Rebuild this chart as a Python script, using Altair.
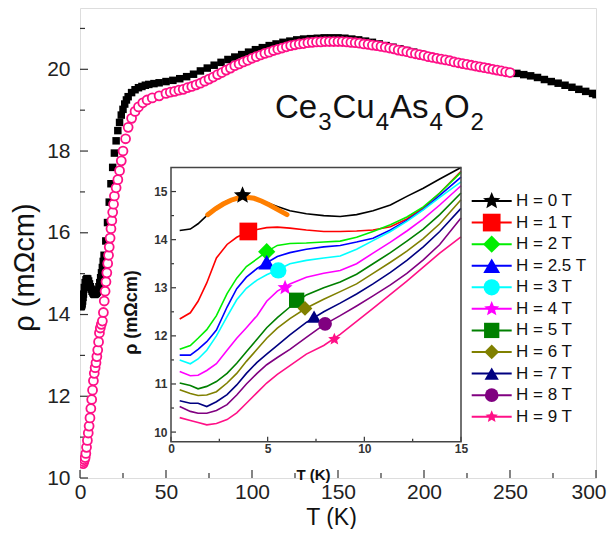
import math
import altair as alt
import pandas as pd

FONT = "Liberation Sans"
PINK = "#FF1087"
FRAME = "#333333"

# ---------------- main panel data ----------------
T_black = [0.5, 0.75, 1.0, 1.25, 1.5, 1.75, 2, 2.5, 3, 3.5, 4, 4.5, 5, 5.5, 6, 6.5, 7, 7.5, 8,
           8.5, 9, 9.5, 10, 10.5, 11, 11.5, 12, 12.5, 13, 13.5, 14, 15, 16, 17, 18, 19, 20,
           21, 22, 23, 24, 25, 26, 27, 28, 30, 32, 34, 36, 38, 40, 43, 46,
           50, 54, 58, 62, 66, 70, 74, 78, 82, 86, 90, 94, 98, 102, 106, 110, 114, 118, 122,
           126, 130, 134, 138, 142, 146, 150, 154, 158, 162, 166, 170, 174, 178, 182, 186,
           190, 194, 198, 202, 206, 210, 214, 218, 222, 226, 230, 234, 238, 242, 246, 250,
           254, 258, 262, 266, 270, 274, 278, 282, 286, 290, 294, 298, 300]
R_black = [14.19, 14.2, 14.22, 14.26, 14.33, 14.42, 14.5, 14.66, 14.78, 14.85, 14.88, 14.87,
           14.82, 14.75, 14.68, 14.62, 14.57, 14.53, 14.5, 14.49, 14.5, 14.52, 14.55, 14.6,
           14.68, 14.78, 14.9, 15.02, 15.15, 15.3, 15.45, 15.8, 16.25, 16.75, 17.2, 17.6, 17.95,
           18.25, 18.5, 18.7, 18.88, 19.02, 19.15, 19.25, 19.33, 19.43, 19.5, 19.55, 19.58,
           19.61, 19.63, 19.65, 19.67,
           19.7, 19.73, 19.77, 19.82, 19.88, 19.96, 20.03, 20.1, 20.17, 20.24, 20.3, 20.36,
           20.42, 20.48, 20.53, 20.58, 20.62, 20.66, 20.69,
           20.72, 20.74, 20.75, 20.76, 20.77, 20.77, 20.77, 20.76, 20.74, 20.72, 20.69, 20.66,
           20.62, 20.58, 20.54, 20.5,
           20.46, 20.42, 20.38, 20.33, 20.29, 20.25, 20.21, 20.17, 20.14, 20.1, 20.07, 20.04,
           20.01, 19.98, 19.95, 19.92,
           19.9, 19.87, 19.84, 19.8, 19.75, 19.7, 19.66, 19.61, 19.56, 19.51, 19.46, 19.41, 19.38]

T_pink = [1.8, 2.2, 2.6, 3.0, 3.4, 3.8, 4.3, 4.8, 5.3, 5.8, 6.3, 6.8, 7.3, 7.8, 8.3, 8.8, 9.3,
          9.8, 10.3, 10.8, 11.3, 11.8, 12.4, 13.0, 13.6, 14.1, 14.6, 15.1, 15.6, 16.1, 16.6,
          17.0, 17.5, 18.0, 18.5, 19.0, 19.5, 20.0, 21.0, 22.0, 23.0, 24.0, 25.0, 26.5, 28,
          30, 32, 34, 36.5, 39, 42, 46, 50, 52.5,
          55, 57.5, 60, 62.5, 65, 67.5, 70, 72.5, 75, 77.5, 80, 82.5, 85, 87.5, 90, 92.5, 95,
          97.5, 100, 102.5, 105, 107.5, 110, 112.5, 115, 117.5, 120, 122.5, 125, 127.5, 130,
          132.5, 135, 137.5, 140, 142.5, 145, 147.5, 150, 152.5, 155, 157.5, 160, 162.5, 165,
          167.5, 170, 172.5, 175, 177.5, 180, 182.5, 185, 187.5, 190, 192.5, 195, 197.5, 200,
          202.5, 205, 207.5, 210, 212.5, 215, 217.5, 220, 222.5, 225, 227.5, 230, 232.5, 235,
          237.5, 240, 242.5, 245, 247.5, 250]
R_pink = [10.35, 10.4, 10.45, 10.5, 10.6, 10.75, 10.92, 11.1, 11.27, 11.47, 11.7, 11.92, 12.15,
          12.38, 12.56, 12.7, 12.82, 12.97, 13.13, 13.33, 13.55, 13.67, 13.76, 13.84, 14.05,
          14.33, 14.57, 14.8, 15.02, 15.25, 15.45, 15.65, 15.87, 16.1, 16.3, 16.5, 16.7, 16.9,
          17.1, 17.3, 17.52, 17.76, 18.0, 18.3, 18.58, 18.8, 18.97, 19.08, 19.18, 19.25, 19.3,
          19.35, 19.41, 19.44,
          19.46, 19.49, 19.51, 19.55, 19.58, 19.62, 19.66, 19.71, 19.76, 19.81, 19.87, 19.92,
          19.98, 20.03, 20.09, 20.13, 20.18, 20.22, 20.27, 20.31, 20.35, 20.39, 20.42, 20.46,
          20.49, 20.52, 20.55, 20.58, 20.6, 20.62, 20.63, 20.65, 20.66, 20.67, 20.67, 20.68,
          20.68, 20.68, 20.68, 20.68, 20.67, 20.66, 20.65, 20.64, 20.62, 20.61, 20.59, 20.58,
          20.56, 20.54, 20.52, 20.5, 20.47, 20.45, 20.43, 20.4, 20.38, 20.36, 20.34, 20.31,
          20.29, 20.27, 20.25, 20.23, 20.21, 20.18, 20.16, 20.14, 20.12, 20.1, 20.08, 20.06,
          20.04, 20.02, 20.0, 19.98, 19.96, 19.94, 19.92]

main_x_ticks = [0, 50, 100, 150, 200, 250, 300]
main_x_minor = [25, 75, 125, 175, 225, 275]
main_y_ticks = [10, 12, 14, 16, 18, 20]
main_y_minor = [11, 13, 15, 17, 19, 21]

# ---------------- inset data ----------------
labels = ["H = 0 T", "H = 1 T", "H = 2 T", "H = 2.5 T", "H = 3 T", "H = 4 T",
          "H = 5 T", "H = 6 T", "H = 7 T", "H = 8 T", "H = 9 T"]
colors = ["#000000", "#FF0000", "#00EE00", "#0000FF", "#00FFFF", "#FF00FF",
          "#008000", "#808000", "#000080", "#800080", PINK]
T_in = [0.45, 1.0, 1.4, 1.85, 2.35, 2.9, 3.4, 3.9, 4.45, 4.95, 5.5, 6.15, 7.0, 7.9, 8.75,
        9.6, 10.45, 11.35, 12.2, 13.05, 13.9, 15.0]
rho_0T = [14.19, 14.22, 14.33, 14.5, 14.68, 14.81, 14.86, 14.87, 14.84, 14.77, 14.69, 14.6,
          14.54, 14.5, 14.48, 14.52, 14.6, 14.72, 14.9, 15.07, 15.26, 15.5]
rho_1T = [12.35, 12.48, 12.72, 13.1, 13.62, 13.9, 14.05, 14.15, 14.21, 14.25, 14.26, 14.24,
          14.2, 14.17, 14.17, 14.18, 14.2, 14.27, 14.43, 14.66, 14.97, 15.42]
rho_2T = [11.72, 11.8, 11.95, 12.13, 12.42, 12.88, 13.2, 13.44, 13.6, 13.75, 13.88, 13.92,
          13.93, 13.95, 13.97, 14.05, 14.17, 14.31, 14.47, 14.68, 14.97, 15.4]
rho_25T = [11.6, 11.6, 11.72, 11.88, 12.12, 12.6, 12.98, 13.22, 13.4, 13.52, 13.65, 13.73,
           13.8, 13.85, 13.88, 13.95, 14.03, 14.2, 14.4, 14.63, 14.92, 15.3]
rho_3T = [11.5, 11.42, 11.52, 11.7, 12.0, 12.4, 12.75, 12.99, 13.16, 13.27, 13.37, 13.5,
          13.57, 13.62, 13.66, 13.8, 13.98, 14.17, 14.38, 14.62, 14.88, 15.2]
rho_4T = [11.26, 11.17, 11.18, 11.28, 11.42, 11.7, 11.95, 12.17, 12.42, 12.72, 12.93, 13.08,
          13.22, 13.3, 13.36, 13.5, 13.72, 13.95, 14.18, 14.43, 14.72, 15.12]
rho_5T = [11.02, 10.97, 10.9, 10.95, 11.05, 11.22, 11.43, 11.67, 11.93, 12.17, 12.38, 12.6,
          12.85, 13.0, 13.12, 13.28, 13.5, 13.73, 13.97, 14.22, 14.52, 14.97]
rho_6T = [10.88, 10.8, 10.76, 10.77, 10.84, 11.02, 11.22, 11.47, 11.72, 11.95, 12.16, 12.36,
          12.58, 12.76, 12.92, 13.08, 13.3, 13.53, 13.76, 14.02, 14.33, 14.83]
rho_7T = [10.65, 10.6, 10.6, 10.53, 10.63, 10.78, 10.98, 11.22, 11.45, 11.62, 11.8, 12.02,
          12.28, 12.5, 12.68, 12.87, 13.08, 13.32, 13.57, 13.85, 14.17, 14.65]
rho_8T = [10.53, 10.43, 10.39, 10.39, 10.45, 10.57, 10.77, 11.0, 11.22, 11.4, 11.55, 11.72,
          11.97, 12.23, 12.42, 12.62, 12.83, 13.06, 13.3, 13.58, 13.9, 14.45]
rho_9T = [10.3, 10.24, 10.2, 10.15, 10.18, 10.26, 10.4, 10.6, 10.82, 11.02, 11.2, 11.38,
          11.62, 11.8, 12.03, 12.3, 12.57, 12.86, 13.14, 13.43, 13.72, 14.06]
inset_rho = [rho_0T, rho_1T, rho_2T, rho_25T, rho_3T, rho_4T, rho_5T, rho_6T, rho_7T,
             rho_8T, rho_9T]

marker_T = [3.7, 4.0, 4.95, 4.95, 5.55, 5.9, 6.5, 6.93, 7.4, 7.97, 8.45]
marker_rho = [14.92, 14.17, 13.75, 13.53, 13.36, 13.0, 12.74, 12.57, 12.4, 12.25, 11.93]

arc_T = [1.9, 2.3, 2.7, 3.1, 3.5, 3.9, 4.3, 4.7, 5.1, 5.5, 6.0]
arc_rho = [14.52, 14.64, 14.74, 14.82, 14.87, 14.88, 14.86, 14.8, 14.72, 14.63, 14.52]

inset_x_ticks = [0, 5, 10, 15]
inset_x_minor = [2.5, 7.5, 12.5]
inset_y_ticks = [10, 11, 12, 13, 14, 15]
inset_y_minor = [10.5, 11.5, 12.5, 13.5, 14.5]

# ---------------- styles ----------------
pts = []
for k in range(10):
    a = -math.pi / 2 + k * math.pi / 5
    r = 1.0 if k % 2 == 0 else 0.45
    pts.append(f"{r * math.cos(a):.3f},{r * math.sin(a):.3f}")
STAR = "M" + " L".join(pts) + " Z"
shapes = [STAR, "square", "diamond", "triangle-up", "circle", STAR,
          "square", "diamond", "triangle-up", "circle", STAR]
size_of = {"square": 170, "diamond": 250, "triangle-up": 230, "circle": 165}
sizes = [size_of.get(s, 330) for s in shapes]

W, H = 516, 470
IN_X = [91, 381]
IN_Y = [433.7, 159.5]

color_enc = alt.Color("H:N", scale=alt.Scale(domain=labels, range=colors), legend=None)
shape_enc = alt.Shape("H:N", scale=alt.Scale(domain=labels, range=shapes), legend=None)
size_enc = alt.Size("H:N", scale=alt.Scale(domain=labels, range=sizes), legend=None)

main_x_axis = alt.Axis(values=main_x_ticks, domain=False, ticks=False, grid=False,
                       labelFontSize=21, labelPadding=3, labelColor="#222", labelFlush=False,
                       labelAlign=alt.condition("datum.value == 300", alt.value("right"),
                                                alt.value("center")),
                       labelOffset=alt.condition("datum.value == 300", alt.value(10),
                                                 alt.value(0)),
                       labelFont=FONT, title="T (K)", titleFontSize=23, titleFontWeight="normal",
                       titleFont=FONT, titleColor="#111", titleX=251, titleY=46,
                       titleBaseline="alphabetic")
main_y_axis = alt.Axis(values=main_y_ticks, domain=False, ticks=False, grid=False,
                       labelFontSize=21, labelPadding=10, labelColor="#222", labelFlush=False,
                       labelFont=FONT, title="ρ (mΩcm)", titleFontSize=29,
                       titleFontWeight="normal", titleFont=FONT, titleColor="#111",
                       titleX=-47, titleY=259, titleBaseline="alphabetic", titleAngle=270,
                       titleAlign="center")


def mx(f):
    return alt.X(f"{f}:Q", scale=alt.Scale(domain=[0, 300], nice=False, zero=False),
                 axis=main_x_axis)


def my(f):
    return alt.Y(f"{f}:Q", scale=alt.Scale(domain=[10, 21.5], nice=False, zero=False),
                 axis=main_y_axis)


inset_x_axis = alt.Axis(orient="bottom", offset=IN_Y[0] - H, values=inset_x_ticks,
                        domain=False, ticks=False, grid=False, labelFontSize=12,
                        labelFontWeight="bold", labelPadding=2, labelColor="#333",
                        labelFont=FONT, labelFlush=False,
                        title="T (K)", titleFontSize=15, titleFontWeight="bold",
                        titleFont=FONT, titleColor="#111", titleX=233, titleY=38,
                        titleBaseline="alphabetic")
inset_y_axis = alt.Axis(orient="left", offset=-IN_X[0], values=inset_y_ticks, domain=False,
                        ticks=False, grid=False, labelFontSize=12, labelFontWeight="bold",
                        labelPadding=4, labelColor="#333", labelFont=FONT, labelFlush=False,
                        title="ρ (mΩcm)", titleFontSize=18, titleFontWeight="bold",
                        titleFont=FONT, titleColor="#111", titleX=-35, titleY=304,
                        titleBaseline="alphabetic", titleAngle=270, titleAlign="center")


def ix(f):
    return alt.X(f"{f}:Q", scale=alt.Scale(domain=[0, 15], range=IN_X, nice=False, zero=False),
                 axis=inset_x_axis)


def iy(f):
    return alt.Y(f"{f}:Q", scale=alt.Scale(domain=[9.8, 15.5], range=IN_Y, nice=False,
                                           zero=False), axis=inset_y_axis)


# ---------------- main layer ----------------
df_black = pd.DataFrame({"T": T_black, "rho": R_black})
df_pink = pd.DataFrame({"T": T_pink, "rho": R_pink})

black = alt.Chart(df_black).mark_point(shape="square", filled=True, size=56, color="black",
                                       opacity=1, clip=True).encode(x=mx("T"), y=my("rho"))
pink = alt.Chart(df_pink).mark_point(shape="circle", filled=True, fill="white", stroke=PINK,
                                     strokeWidth=1.8, size=80, opacity=1, fillOpacity=1,
                                     strokeOpacity=1, clip=True).encode(x=mx("T"), y=my("rho"))

mxt = alt.Chart(pd.DataFrame({"T": main_x_ticks})).mark_rule(color=FRAME, strokeWidth=1.2).encode(
    x=mx("T"), y=alt.value(H), y2=alt.value(H - 8))
mxm = alt.Chart(pd.DataFrame({"T": main_x_minor})).mark_rule(color=FRAME, strokeWidth=1.2).encode(
    x=mx("T"), y=alt.value(H), y2=alt.value(H - 5))
myt = alt.Chart(pd.DataFrame({"rho": main_y_ticks})).mark_rule(color=FRAME, strokeWidth=1.2).encode(
    y=my("rho"), x=alt.value(0), x2=alt.value(8))
mym = alt.Chart(pd.DataFrame({"rho": main_y_minor})).mark_rule(color=FRAME, strokeWidth=1.2).encode(
    y=my("rho"), x=alt.value(0), x2=alt.value(5))

main = alt.layer(mxt, mxm, myt, mym, black, pink)

# ---------------- inset layer ----------------
rows = []
for lab, vals in zip(labels, inset_rho):
    for t, v in zip(T_in, vals):
        rows.append({"H": lab, "T": t, "rho": v})
df_in = pd.DataFrame(rows)
df_mark = pd.DataFrame({"H": labels, "T": marker_T, "rho": marker_rho})
df_arc = pd.DataFrame({"T": arc_T, "rho": arc_rho})

lines = alt.Chart(df_in).mark_line(strokeWidth=1.6).encode(
    x=ix("T"), y=iy("rho"), color=color_enc)
arc = alt.Chart(df_arc).mark_line(color="#FF7F00", strokeWidth=5, strokeCap="round").encode(
    x=ix("T"), y=iy("rho"))
marks = alt.Chart(df_mark).mark_point(filled=True, opacity=1).encode(
    x=ix("T"), y=iy("rho"), color=color_enc, shape=shape_enc, size=size_enc)

ixt = alt.Chart(pd.DataFrame({"T": inset_x_ticks})).mark_rule(color=FRAME, strokeWidth=1.2).encode(
    x=ix("T"), y=alt.value(IN_Y[0]), y2=alt.value(IN_Y[0] - 5))
ixm = alt.Chart(pd.DataFrame({"T": inset_x_minor})).mark_rule(color=FRAME, strokeWidth=1.2).encode(
    x=ix("T"), y=alt.value(IN_Y[0]), y2=alt.value(IN_Y[0] - 3))
iyt = alt.Chart(pd.DataFrame({"rho": inset_y_ticks})).mark_rule(color=FRAME, strokeWidth=1.2).encode(
    y=iy("rho"), x=alt.value(IN_X[0]), x2=alt.value(IN_X[0] + 5))
iym = alt.Chart(pd.DataFrame({"rho": inset_y_minor})).mark_rule(color=FRAME, strokeWidth=1.2).encode(
    y=iy("rho"), x=alt.value(IN_X[0]), x2=alt.value(IN_X[0] + 3))

inset = alt.layer(ixt, ixm, iyt, iym, lines, arc, marks)

frame = alt.Chart(pd.DataFrame({"a": [0]})).mark_rect(
    fillOpacity=0, stroke="#444", strokeWidth=1.5).encode(
    x=alt.value(IN_X[0]), x2=alt.value(IN_X[1]), y=alt.value(IN_Y[1]), y2=alt.value(IN_Y[0]))

# ---------------- legend layer ----------------
df_leg = pd.DataFrame({"H": labels})
leg_y = alt.Y("H:N", sort=labels, scale=alt.Scale(type="point", domain=labels,
                                                   range=[193, 408.7], padding=0), axis=None)
leg_line = alt.Chart(df_leg).mark_rule(strokeWidth=2).encode(
    y=leg_y, x=alt.value(391.7), x2=alt.value(431.7), color=color_enc)
leg_mark = alt.Chart(df_leg).mark_point(filled=True, opacity=1).encode(
    y=leg_y, x=alt.value(411.7), color=color_enc, shape=shape_enc, size=size_enc)
leg_text = alt.Chart(df_leg).mark_text(align="left", baseline="middle", fontSize=17,
                                       font=FONT, color="#111").encode(
    y=leg_y, x=alt.value(436), text="H:N")
legend = alt.layer(leg_line, leg_mark, leg_text)

# ---------------- compound label ----------------
pieces = [("Ce", False), ("3", True), ("Cu", False), ("4", True),
          ("As", False), ("4", True), ("O", False), ("2", True)]
adv = {"C": 0.722, "e": 0.556, "u": 0.556, "A": 0.667, "s": 0.5, "O": 0.778,
       "2": 0.556, "3": 0.556, "4": 0.556}
BIG, SMALL = 33, 24
xpos = 195
text_layers = []
for txt, sub in pieces:
    fs = SMALL if sub else BIG
    text_layers.append(
        alt.Chart(pd.DataFrame({"a": [0]})).mark_text(
            text=txt, align="left", baseline="alphabetic", fontSize=fs, font=FONT,
            color="#111").encode(x=alt.value(xpos), y=alt.value(122 if sub else 110.3)))
    xpos += sum(adv[c] for c in txt) * fs + 1

chart = alt.layer(main, inset, frame, legend, *text_layers).resolve_scale(
    x="independent", y="independent"
).properties(
    width=W, height=H,
    padding={"left": 72, "top": 0, "right": 11, "bottom": 51},
    autosize=alt.AutoSizeParams(type="none"),
).configure_view(stroke=FRAME, strokeWidth=1.3).configure(background="white")

chart.save("out.html", embed_options={"renderer": "svg", "actions": False})
